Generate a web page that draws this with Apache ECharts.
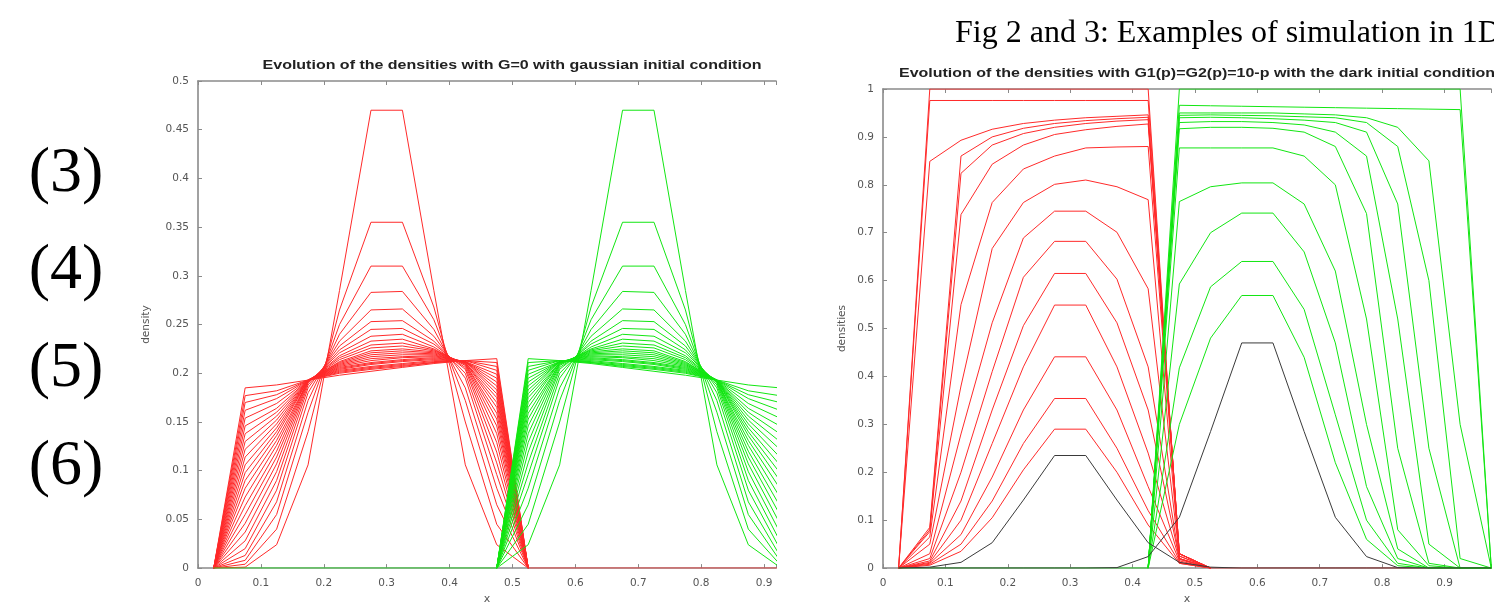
<!DOCTYPE html>
<html><head><meta charset="utf-8">
<script src="https://cdn.jsdelivr.net/npm/echarts@6/dist/echarts.min.js"></script>
<style>html,body{margin:0;padding:0;background:#fff}#c{width:1494px;height:610px}</style>
</head><body><div id="c"></div>
<script>
// ---------- texts ----------
const eqLabels = ["(3)", "(4)", "(5)", "(6)"];
const figCaption = "Fig 2 and 3: Examples of simulation in 1D";
const leftTitle = "Evolution of the densities with G=0 with gaussian initial condition";
const rightTitle = "Evolution of the densities with G1(p)=G2(p)=10-p with the dark initial condition";
const leftYName = "density";
const rightYName = "densities";
const xName = "x";

// ---------- left chart (G=0, gaussian initial condition) ----------
const leftXRed = [0.025, 0.075, 0.125, 0.175, 0.225, 0.275, 0.325, 0.375, 0.425, 0.475, 0.525];
const leftRed = [
  [0, .001, .024, .106, .285, .470, .470, .285, .106, .024, 0],
  [0, .004, .040, .140, .265, .355, .355, .268, .150, .045, 0],
  [0, .008, .055, .160, .250, .310, .310, .255, .172, .065, 0],
  [0, .013, .068, .172, .240, .283, .284, .245, .185, .082, 0],
  [0, .020, .080, .180, .233, .265, .266, .238, .195, .096, 0],
  [0, .028, .090, .185, .228, .253, .254, .233, .200, .108, 0],
  [0, .037, .099, .188, .224, .245, .246, .230, .204, .119, 0],
  [0, .046, .107, .190, .221, .238, .240, .227, .206, .129, 0],
  [0, .055, .114, .191, .218, .233, .235, .225, .208, .138, 0],
  [0, .064, .120, .192, .216, .229, .231, .224, .209, .146, 0],
  [0, .073, .126, .192, .214, .226, .228, .223, .210, .153, 0],
  [0, .082, .131, .192, .212, .223, .225, .222, .210, .159, 0],
  [0, .090, .136, .193, .211, .221, .223, .221, .211, .165, 0],
  [0, .098, .140, .193, .210, .219, .221, .220, .211, .170, 0],
  [0, .106, .144, .193, .209, .217, .219, .219, .211, .175, 0],
  [0, .114, .148, .193, .208, .215, .217, .218, .212, .179, 0],
  [0, .122, .152, .193, .207, .213, .216, .217, .212, .183, 0],
  [0, .130, .156, .193, .206, .211, .214, .216, .212, .187, 0],
  [0, .138, .160, .193, .205, .210, .213, .215, .212, .191, 0],
  [0, .146, .164, .193, .204, .209, .212, .214, .212, .195, 0],
  [0, .154, .169, .193, .203, .207, .210, .213, .212, .199, 0],
  [0, .162, .174, .193, .202, .206, .209, .212, .213, .203, 0],
  [0, .170, .178, .193, .201, .205, .208, .211, .213, .207, 0],
  [0, .177, .182, .193, .200, .204, .207, .211, .213, .211, 0],
  [0, .185, .188, .193, .198, .202, .206, .210, .213, .215, 0]
];
const leftXGreen = [0.475, 0.525, 0.575, 0.625, 0.675, 0.725, 0.775, 0.825, 0.875, 0.925, 0.975];
const leftGreen = [
  [0, .024, .106, .285, .470, .470, .285, .106, .024, .001, 0],
  [0, .045, .150, .268, .355, .355, .265, .140, .040, .004, 0],
  [0, .065, .172, .255, .310, .310, .250, .160, .055, .008, 0],
  [0, .082, .185, .245, .284, .283, .240, .172, .068, .013, 0],
  [0, .096, .195, .238, .266, .265, .233, .180, .080, .020, 0],
  [0, .108, .200, .233, .254, .253, .228, .185, .090, .028, 0],
  [0, .119, .204, .230, .246, .245, .224, .188, .099, .037, 0],
  [0, .129, .206, .227, .240, .238, .221, .190, .107, .046, 0],
  [0, .138, .208, .225, .235, .233, .218, .191, .114, .055, 0],
  [0, .146, .209, .224, .231, .229, .216, .192, .120, .064, 0],
  [0, .153, .210, .223, .228, .226, .214, .192, .126, .073, 0],
  [0, .159, .210, .222, .225, .223, .212, .192, .131, .082, 0],
  [0, .165, .211, .221, .223, .221, .211, .193, .136, .090, 0],
  [0, .170, .211, .220, .221, .219, .210, .193, .140, .098, 0],
  [0, .175, .211, .219, .219, .217, .209, .193, .144, .106, 0],
  [0, .179, .212, .218, .217, .215, .208, .193, .148, .114, 0],
  [0, .183, .212, .217, .216, .213, .207, .193, .152, .122, 0],
  [0, .187, .212, .216, .214, .211, .206, .193, .156, .130, 0],
  [0, .191, .212, .215, .213, .210, .205, .193, .160, .138, 0],
  [0, .195, .212, .214, .212, .209, .204, .193, .164, .146, 0],
  [0, .199, .212, .213, .210, .207, .203, .193, .169, .154, 0],
  [0, .203, .213, .212, .209, .206, .202, .193, .174, .162, 0],
  [0, .207, .213, .211, .208, .205, .201, .193, .178, .170, 0],
  [0, .211, .213, .211, .207, .204, .200, .193, .182, .177, 0],
  [0, .215, .213, .210, .206, .202, .198, .193, .188, .185, 0]
];
const leftRedZeroX = [0.525, 0.975], leftRedZeroY = [0, 0];
const leftGreenZeroX = [0.025, 0.475], leftGreenZeroY = [0, 0];

// ---------- right chart (G1=G2=10-p, dark initial condition) ----------
const rightXRed = [0.025, 0.075, 0.125, 0.175, 0.225, 0.275, 0.325, 0.375, 0.425, 0.475, 0.525];
const rightRed = [
  [0, .006, .035, .105, .205, .290, .290, .200, .090, .010, 0],
  [0, .008, .050, .140, .260, .354, .354, .250, .120, .012, 0],
  [0, .010, .070, .190, .330, .441, .441, .330, .170, .015, 0],
  [0, .012, .100, .260, .420, .549, .549, .420, .240, .018, 0],
  [0, .015, .140, .330, .506, .615, .615, .512, .330, .020, 0],
  [0, .020, .200, .410, .607, .682, .682, .603, .420, .020, 0],
  [0, .030, .280, .512, .689, .745, .745, .701, .583, .025, 0],
  [0, .050, .380, .667, .763, .801, .810, .796, .769, .025, 0],
  [0, .065, .550, .763, .833, .860, .877, .879, .880, .030, 0],
  [0, .076, .738, .843, .883, .905, .915, .922, .927, .030, 0],
  [0, .080, .824, .883, .907, .920, .928, .933, .936, .030, 0],
  [0, .085, .860, .900, .918, .928, .934, .938, .941, .030, 0],
  [0, .849, .893, .916, .928, .935, .940, .943, .946, .030, 0],
  [0, .976, .976, .976, .976, .976, .976, .976, .976, .020, 0],
  [0, 1.00, 1.00, 1.00, 1.00, 1.00, 1.00, 1.00, 1.00, .010, 0]
];
const rightXGreen = [0.425, 0.475, 0.525, 0.575, 0.625, 0.675, 0.725, 0.775, 0.825, 0.875, 0.925, 0.975];
const rightGreen = [
  [0, .300, .480, .569, .569, .440, .220, .060, .005, 0, 0, 0],
  [0, .418, .587, .640, .640, .540, .320, .100, .010, 0, 0, 0],
  [0, .593, .700, .741, .741, .660, .470, .170, .020, 0, 0, 0],
  [0, .765, .796, .804, .804, .760, .620, .300, .040, 0, 0, 0],
  [0, .877, .877, .877, .877, .860, .800, .520, .080, .005, 0, 0],
  [0, .917, .920, .920, .918, .910, .880, .740, .250, .010, 0, 0],
  [0, .930, .932, .932, .930, .925, .910, .860, .520, .050, 0, 0],
  [0, .940, .941, .940, .938, .935, .930, .910, .760, .250, 0, 0],
  [0, .945, .946, .945, .944, .942, .940, .930, .880, .600, .020, 0],
  [0, .950, .950, .950, .950, .948, .946, .940, .920, .850, .300, 0],
  [0, .966, .965, .964, .963, .962, .961, .960, .959, .958, .957, 0],
  [0, 1.00, 1.00, 1.00, 1.00, 1.00, 1.00, 1.00, 1.00, 1.00, 1.00, 0]
];
const rightXFull = [0.025, 0.075, 0.125, 0.175, 0.225, 0.275, 0.325, 0.375, 0.425, 0.475,
                    0.525, 0.575, 0.625, 0.675, 0.725, 0.775, 0.825, 0.875, 0.925, 0.975];
const rightBlack = [
  [0, .002, .012, .053, .142, .235, .235, .142, .053, .012, .002, 0, 0, 0, 0, 0, 0, 0, 0, 0],
  [0, 0, 0, 0, 0, 0, 0, .001, .024, .106, .285, .470, .470, .285, .106, .024, .001, 0, 0, 0]
];
const rightRedZeroX = [0.525, 0.975], rightRedZeroY = [0, 0];
const rightGreenZeroX = [0.025, 0.425], rightGreenZeroY = [0, 0];

// ---------- build ----------
const RED = '#ff2a2a', GREEN = '#12e612', BLACK = '#3a3a3a';
const AX = '#8a8a8a', LAB = '#555', FONT = '"DejaVu Sans", "Liberation Sans", sans-serif';

function line(gi, xs, ys, color) {
  return {
    type: 'line', xAxisIndex: gi * 2, yAxisIndex: gi, silent: true, animation: false,
    symbol: 'none', showSymbol: false, clip: true,
    lineStyle: { color: color, width: 1 },
    data: xs.map((x, i) => [x, ys[i]])
  };
}
const fmt = step => v => {
  const k = Math.round(v / step);
  if (Math.abs(v - k * step) > 1e-6) return '';
  return String(parseFloat(v.toFixed(3)));
};

function xAxes(gi, max, withName) {
  const common = {
    gridIndex: gi, type: 'value', min: 0, max: max, interval: 0.1,
    splitLine: { show: false },
    axisLine: { show: true, onZero: false, lineStyle: { color: AX, width: 1.6 } },
    axisTick: { show: true, inside: true, length: 4, lineStyle: { color: AX } }
  };
  return [
    Object.assign({}, common, {
      position: 'bottom',
      axisLabel: { formatter: fmt(0.1), color: LAB, fontSize: 10.5, fontFamily: FONT, margin: 10 },
      name: withName ? xName : '', nameLocation: 'middle', nameGap: 25,
      nameTextStyle: { color: LAB, fontSize: 11, fontFamily: FONT }
    }),
    Object.assign({}, common, { position: 'top', axisLabel: { show: false } })
  ];
}
function yAxis(gi, max, interval, name, gap) {
  return {
    gridIndex: gi, type: 'value', min: 0, max: max, interval: interval, position: 'left',
    splitLine: { show: false },
    axisLine: { show: true, lineStyle: { color: AX, width: 1.6 } },
    axisTick: { show: true, inside: true, length: 4, lineStyle: { color: AX } },
    axisLabel: { formatter: fmt(interval), color: LAB, fontSize: 10.5, fontFamily: FONT, margin: 9 },
    name: name, nameLocation: 'middle', nameRotate: 90, nameGap: gap,
    nameTextStyle: { color: LAB, fontSize: 10.5, fontFamily: FONT }
  };
}

const series = [];
leftRed.forEach(ys => series.push(line(0, leftXRed, ys, RED)));
series.push(line(0, leftRedZeroX, leftRedZeroY, RED));
leftGreen.forEach(ys => series.push(line(0, leftXGreen, ys, GREEN)));
series.push(line(0, leftGreenZeroX, leftGreenZeroY, GREEN));
rightRed.forEach(ys => series.push(line(1, rightXRed, ys, RED)));
series.push(line(1, rightRedZeroX, rightRedZeroY, RED));
rightGreen.forEach(ys => series.push(line(1, rightXGreen, ys, GREEN)));
series.push(line(1, rightGreenZeroX, rightGreenZeroY, GREEN));
rightBlack.forEach(ys => series.push(line(1, rightXFull, ys, BLACK)));

function txt(t, x, y, opts) {
  const st = Object.assign({ text: t, fill: '#111', align: 'center', verticalAlign: 'middle',
    textAlign: 'center', textVerticalAlign: 'middle' }, opts.style);
  return { type: 'text', x: x, y: y, scaleX: opts.scaleX || 1, silent: true, style: st };
}
const graphics = [];
const eqY = [174, 271, 369, 467];
eqLabels.forEach((t, i) => graphics.push(txt(t, 66, eqY[i], {
  style: { fontSize: 64, fontFamily: '"Liberation Serif", "DejaVu Serif", serif', fill: '#000' } })));
graphics.push(txt(figCaption, 955, 34, { style: { fontSize: 32, fontFamily: '"Liberation Serif", serif',
  fill: '#000', align: 'left', textAlign: 'left' } }));
graphics.push(txt(leftTitle, 512, 65, { scaleX: 1.23, style: { fontSize: 13, fontWeight: 'bold',
  fontFamily: '"Liberation Sans", sans-serif', fill: '#222' } }));
graphics.push(txt(rightTitle, 899, 73, { scaleX: 1.23, style: { fontSize: 13, fontWeight: 'bold',
  fontFamily: '"Liberation Sans", sans-serif', fill: '#222', align: 'left', textAlign: 'left' } }));

const option = {
  backgroundColor: '#fff',
  animation: false,
  grid: [
    { left: 198, top: 81, width: 578, height: 495, containLabel: false },
    { left: 883, top: 89, width: 611, height: 494, containLabel: false }
  ],
  xAxis: [].concat(xAxes(0, 0.919, true), xAxes(1, 0.9745, true)),
  yAxis: [yAxis(0, 0.5, 0.05, leftYName, 46), yAxis(1, 1, 0.1, rightYName, 35)],
  series: series,
  graphic: graphics
};
const chart = echarts.init(document.getElementById('c'), null, { renderer: 'canvas' });
chart.setOption(option);
</script>
</body></html>
